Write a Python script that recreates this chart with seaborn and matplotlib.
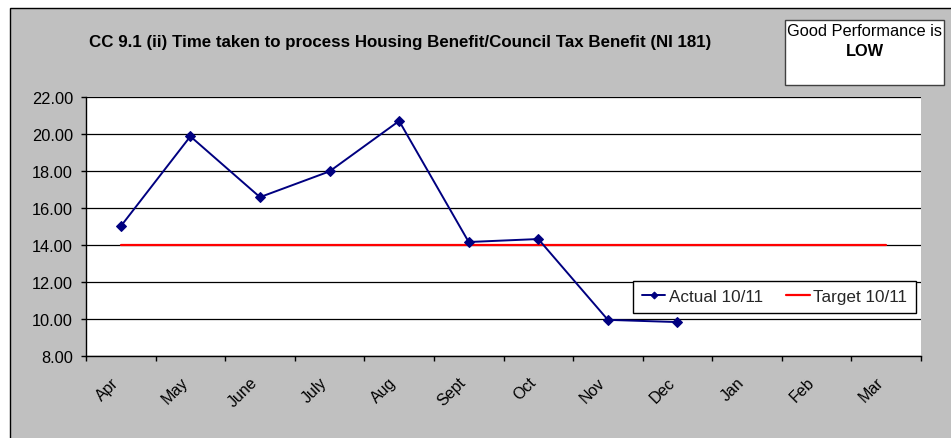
import matplotlib
matplotlib.use("Agg")
import matplotlib.pyplot as plt
from matplotlib.patches import Rectangle
from matplotlib.ticker import FixedLocator, FormatStrFormatter
from matplotlib.transforms import ScaledTranslation
import seaborn as sns
import pandas as pd

months = ["Apr", "May", "June", "July", "Aug", "Sept", "Oct", "Nov", "Dec", "Jan", "Feb", "Mar"]
actual_1011 = [15.00, 19.85, 16.57, 17.96, 20.68, 14.15, 14.31, 9.95, 9.83]
target_1011 = [14.00] * 12
title = "CC 9.1 (ii) Time taken to process Housing Benefit/Council Tax Benefit (NI 181)"

sns.set_theme(style="white")
plt.rcParams["font.family"] = ["Liberation Sans", "DejaVu Sans"]

W, H = 951, 439
fig = plt.figure(figsize=(W / 100, H / 100), dpi=100, facecolor="white")

def px(x, y):
    return x / W, 1 - y / H

# grey chart area with a thin black frame
fig.patches.append(Rectangle(px(10, 460), 960 / W, 451 / H, transform=fig.transFigure,
                             facecolor="#C0C0C0", edgecolor="black", linewidth=1.0, zorder=-5))

x0, y0 = px(86, 357)
x1, y1 = px(921, 97.5)
ax = fig.add_axes([x0, y0, x1 - x0, y1 - y0])
ax.set_facecolor("white")

df_actual = pd.DataFrame({"idx": range(len(actual_1011)), "value": actual_1011,
                          "series": "Actual 10/11"})
df_target = pd.DataFrame({"idx": range(len(target_1011)), "value": target_1011,
                          "series": "Target 10/11"})

sns.lineplot(data=df_target, x="idx", y="value", ax=ax, color="#FF0000",
             linewidth=1.6, label="Target 10/11", zorder=3)
sns.lineplot(data=df_actual, x="idx", y="value", ax=ax, color="#000080",
             linewidth=1.4, marker="D", markersize=5, markeredgecolor="#000080",
             label="Actual 10/11", zorder=4)

ax.set_xlim(-0.5, len(months) - 0.5)
ax.set_ylim(8, 22)
ax.yaxis.set_major_locator(FixedLocator([8, 10, 12, 14, 16, 18, 20, 22]))
ax.yaxis.set_major_formatter(FormatStrFormatter("%.2f"))
ax.grid(axis="y", color="black", linewidth=0.9)
ax.set_axisbelow(True)

ax.set_xticks(range(len(months)))
ax.set_xticklabels(months, rotation=45, ha="right", va="center", rotation_mode="anchor")
ax.set_xticks([i - 0.5 for i in range(len(months) + 1)], minor=True)
ax.tick_params(axis="x", which="major", length=0, pad=17, labelsize=11.5, colors="black")
ax.tick_params(axis="x", which="minor", length=3.6, width=1, color="black", direction="out", bottom=True)
ax.tick_params(axis="y", length=3.6, width=1, color="black", direction="out", left=True,
               pad=5.8, labelsize=11.8, colors="black")
shift = ScaledTranslation(-5 / 100, 0, fig.dpi_scale_trans)
for lab in ax.get_xticklabels():
    lab.set_transform(lab.get_transform() + shift)
ax.set_xlabel("")
ax.set_ylabel("")

for s in ["top", "right"]:
    ax.spines[s].set_visible(False)
for s in ["left", "bottom"]:
    ax.spines[s].set_color("black")
    ax.spines[s].set_linewidth(1.0)

handles, labels = ax.get_legend_handles_labels()
order = [labels.index("Actual 10/11"), labels.index("Target 10/11")]
leg = ax.legend([handles[i] for i in order], [labels[i] for i in order],
                loc="lower left", bbox_to_anchor=px(633, 314), bbox_transform=fig.transFigure,
                ncol=2, frameon=True, fancybox=False, fontsize=12.3, handlelength=1.4,
                handletextpad=0.2, columnspacing=1.33, borderpad=0.5, borderaxespad=0,
                markerscale=0.7)
leg.get_frame().set_edgecolor("black")
leg.get_frame().set_linewidth(1.0)
leg.get_frame().set_facecolor("white")
leg.get_frame().set_alpha(1)

tx, ty = px(400, 42)
fig.text(tx, ty, title, ha="center", va="center", fontsize=12.2, fontweight="bold", color="black")

# note box at top right
bx, by = px(785, 86)
fig.patches.append(Rectangle((bx, by), (944 - 785) / W, (86 - 21) / H, transform=fig.transFigure,
                             facecolor="white", edgecolor="#404040", linewidth=1.0, zorder=1))
fig.text(*px(864.5, 32), "Good Performance is", ha="center", va="center", fontsize=11.8, color="black")
fig.text(*px(864.5, 52), "LOW", ha="center", va="center", fontsize=11.8, fontweight="bold", color="black")

fig.savefig("out.png", dpi=100, facecolor="white")
